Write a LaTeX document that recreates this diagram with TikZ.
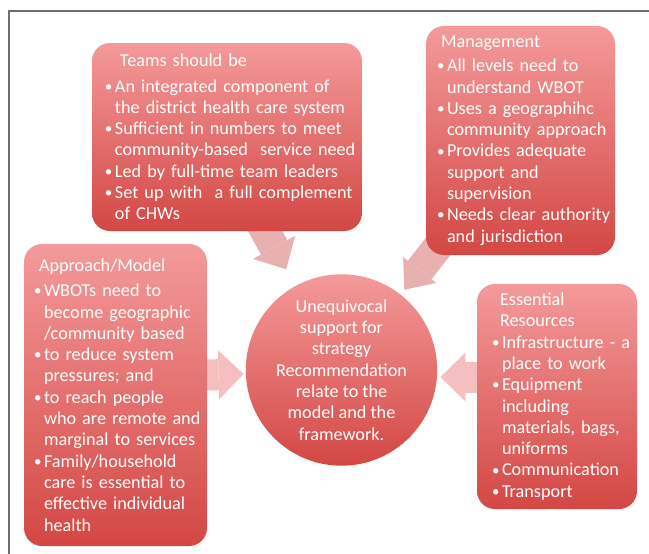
\documentclass[tikz,border=0pt]{standalone}
\usepackage{fontspec}
\setmainfont{Carlito}
\usetikzlibrary{arrows.meta,backgrounds}
\definecolor{boxtop}{RGB}{244,154,154}
\definecolor{boxbot}{RGB}{211,71,67}
\definecolor{feedgrey}{RGB}{230,177,175}
\definecolor{feedpink}{RGB}{246,191,191}
\definecolor{framegrey}{RGB}{110,110,110}
\newcommand\bul{\makebox[10pt][l]{\raisebox{0.9pt}{\fontsize{15}{15}\selectfont\textbullet}}}
\newcommand\cont{\hspace*{10pt}}
\tikzset{
  panel/.style={rounded corners=18pt, top color=boxtop, bottom color=boxbot,
    text=white, align=left, inner xsep=0pt,
    font=\fontsize{18.2}{21.3}\selectfont,
    execute at begin node={\leftskip=#1\relax}},
  hubnode/.style={circle, minimum size=177pt, inner sep=0pt, top color=boxtop,
    bottom color=boxbot, text=white, align=center,
    font=\fontsize{18.2}{21.3}\selectfont},
  toparrow/.style={draw=feedgrey, line width=30pt,
    -{Triangle[length=25pt,width=#1,line width=0pt]}},
  toparrow/.default=48pt,
  sidearrow/.style={draw=feedpink, line width=31pt,
    -{Triangle[length=25pt,width=49pt,line width=0pt]}}
}
\begin{document}
\begin{tikzpicture}[x=1pt,y=-1pt]
\useasboundingbox (0,0) rectangle (649,554);
\draw[framegrey,line width=1.6pt] (9,554) -- (9,11) -- (649,11);

% the four panels and the hub
\node[panel=13pt, text width=270pt, minimum height=188pt] (teams) at (227,137) {%
\hspace*{15pt}Teams should be\\[4pt]
\bul An integrated component of\\
\cont the district health care system\\
\bul Sufficient in numbers to meet\\
\cont community-based\ \ service need\\
\bul Led by full-time team leaders\\
\bul Set up with\ \ a full complement\\
\cont of CHWs};
\node[panel=11pt, text width=189pt, minimum height=229pt] (mgmt) at (520.5,140.5) {%
\hspace*{4pt}Management\\[3pt]
\bul All levels need to\\
\cont understand WBOT\\
\bul Uses a geographihc\\
\cont community approach\\
\bul Provides adequate\\
\cont support and\\
\cont supervision\\
\bul Needs clear authority\\
\cont and jurisdiction};
\node[panel=10pt, text width=183pt, minimum height=302pt] (approach) at (115.5,395) {%
\hspace*{5pt}Approach/Model\\[4pt]
\bul WBOTs need to\\
\cont become geographic\\
\cont /community based\\
\bul to reduce system\\
\cont pressures; and\\
\bul to reach people\\
\cont who are remote and\\
\cont marginal to services\\
\bul Family/household\\
\cont care is essential to\\
\cont effective individual\\
\cont health};
\node[panel=15pt, text width=160pt, minimum height=225pt] (resources) at (557,396.5) {%
\hspace*{8pt}Essential\\
\hspace*{8pt}Resources\\
\bul Infrastructure - a\\
\cont place to work\\
\bul Equipment\\
\cont including\\
\cont materials, bags,\\
\cont uniforms\\
\bul Communication\\
\bul Transport};
\node[hubnode] (hub) at (341.5,370) {Unequivocal\\support for\\strategy\\Recommendation\\relate to the\\model and the\\framework.};

% block arrows into the hub
\begin{scope}[on background layer]
\coordinate (teamsfoot) at ([xshift=30pt,yshift=15pt]teams.south);
\coordinate (mgmtfoot) at ([xshift=25pt,yshift=25pt]mgmt.south west);
\draw[toparrow, shorten >=19pt] (teamsfoot) -- (hub);
\draw[toparrow=42pt, shorten >=6pt] (mgmtfoot) -- (hub);
\draw[sidearrow, shorten <=-8pt, shorten >=2pt] ([yshift=20pt]approach.east) -- ([yshift=-4pt]hub.west);
\draw[sidearrow, shorten <=-8pt, shorten >=3pt] ([yshift=19.5pt]resources.west) -- ([yshift=-7pt]hub.east);
\end{scope}
\end{tikzpicture}
\end{document}
